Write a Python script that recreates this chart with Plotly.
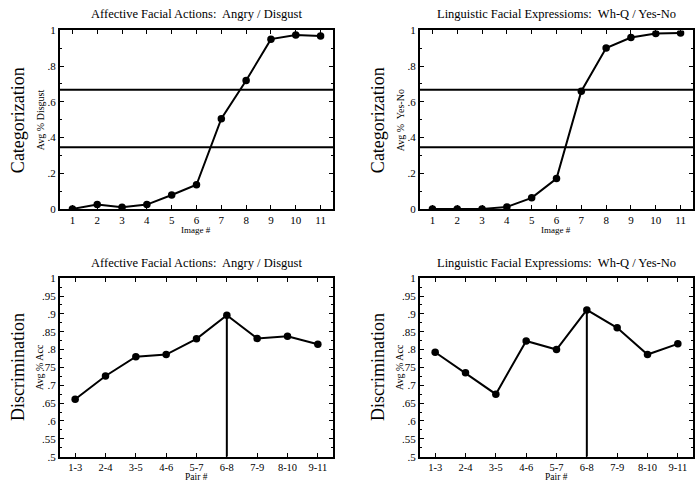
import plotly.graph_objects as go

# ---- data ----
image_nums = [1, 2, 3, 4, 5, 6, 7, 8, 9, 10, 11]
affective_cat = [0.0, 0.024, 0.009, 0.024, 0.078, 0.135, 0.505, 0.719, 0.951, 0.974, 0.969]
linguistic_cat = [0.0, 0.0, 0.0, 0.011, 0.062, 0.17, 0.659, 0.901, 0.96, 0.982, 0.985]
cat_thresholds = [0.667, 0.345]

pair_labels = ["1-3", "2-4", "3-5", "4-6", "5-7", "6-8", "7-9", "8-10", "9-11"]
affective_disc = [0.661, 0.726, 0.780, 0.786, 0.830, 0.896, 0.831, 0.837, 0.815]
linguistic_disc = [0.7925, 0.735, 0.675, 0.824, 0.800, 0.911, 0.861, 0.786, 0.816]
peak_pair = "6-8"

cat_ticks = [0, 0.2, 0.4, 0.6, 0.8, 1]
cat_ticktext = ["0", ".2", ".4", ".6", ".8", "1"]
disc_ticks = [0.5, 0.55, 0.6, 0.65, 0.7, 0.75, 0.8, 0.85, 0.9, 0.95, 1]
disc_ticktext = [".5", ".55", ".6", ".65", ".7", ".75", ".8", ".85", ".9", ".95", "1"]

title_aff = "Affective Facial Actions:  Angry / Disgust"
title_ling = "Linguistic Facial Expressioms:  Wh-Q / Yes-No"

W, H = 700, 489
FONT = "Liberation Serif"

fig = go.Figure()

pair_idx = list(range(1, len(pair_labels) + 1))
peak_i = pair_labels.index(peak_pair)

panels = [
    ("x", "y", image_nums, affective_cat, True),
    ("x2", "y2", image_nums, linguistic_cat, True),
    ("x3", "y3", pair_idx, affective_disc, False),
    ("x4", "y4", pair_idx, linguistic_disc, False),
]

for xa, ya, xs, ys, clip in panels:
    fig.add_trace(go.Scatter(
        x=xs, y=ys, xaxis=xa, yaxis=ya, mode="lines+markers",
        line=dict(color="black", width=2),
        marker=dict(color="black", size=7.5),
        showlegend=False, hoverinfo="skip", cliponaxis=clip))

# vertical peak lines in discrimination panels
for xa, ya, ys in [("x3", "y3", affective_disc), ("x4", "y4", linguistic_disc)]:
    fig.add_trace(go.Scatter(
        x=[pair_idx[peak_i], pair_idx[peak_i]], y=[disc_ticks[0], ys[peak_i]],
        xaxis=xa, yaxis=ya, mode="lines",
        line=dict(color="black", width=2), showlegend=False, hoverinfo="skip"))

# threshold lines in categorization panels
for xr, yr in [("x", "y"), ("x2", "y2")]:
    for t in cat_thresholds:
        fig.add_shape(type="line", xref=f"{xr} domain", yref=yr,
                      x0=0, x1=1, y0=t, y1=t,
                      line=dict(color="black", width=2))

def px_x(p):
    return p / W

def px_y(p):
    return 1 - p / H

left_dom = [px_x(60), px_x(333)]
right_dom = [px_x(420), px_x(693)]
top_dom = [px_y(208), px_y(25)]
bot_dom = [px_y(462), px_y(279)]

axis_common = dict(showgrid=False, zeroline=False, showline=True, linecolor="black",
                   linewidth=2, mirror="ticks", ticks="inside", ticklen=4,
                   tickcolor="black", tickwidth=1,
                   tickfont=dict(family=FONT, size=11, color="black"))

cat_x = dict(axis_common, range=[0.5, 11.5], tickvals=image_nums,
             ticktext=[str(v) for v in image_nums])
cat_y = dict(axis_common, range=[0, 1], tickvals=cat_ticks, ticktext=cat_ticktext,
             minor=dict(dtick=0.1, ticks="inside", ticklen=2, tickcolor="black"))
disc_x = dict(axis_common, range=[0.5, 9.5], tickvals=pair_idx, ticktext=pair_labels,
              tickfont=dict(family=FONT, size=10.5, color="black"))
disc_y = dict(axis_common, range=[0.5, 1], tickvals=disc_ticks, ticktext=disc_ticktext,
              minor=dict(dtick=0.025, ticks="inside", ticklen=2, tickcolor="black"))

fig.update_layout(
    width=W, height=H, margin=dict(l=0, r=0, t=0, b=0),
    paper_bgcolor="white", plot_bgcolor="white",
    font=dict(family=FONT, color="black"),
    xaxis=dict(cat_x, domain=left_dom, anchor="y"),
    yaxis=dict(cat_y, domain=top_dom, anchor="x"),
    xaxis2=dict(cat_x, domain=right_dom, anchor="y2"),
    yaxis2=dict(cat_y, domain=top_dom, anchor="x2"),
    xaxis3=dict(disc_x, domain=left_dom, anchor="y3"),
    yaxis3=dict(disc_y, domain=bot_dom, anchor="x3"),
    xaxis4=dict(disc_x, domain=right_dom, anchor="y4"),
    yaxis4=dict(disc_y, domain=bot_dom, anchor="x4"),
)

ann = []
def add_text(text, x, y, size, angle=0):
    ann.append(dict(text=text, x=px_x(x), y=px_y(y), xref="paper", yref="paper",
                    showarrow=False, textangle=angle,
                    font=dict(family=FONT, size=size, color="black"),
                    xanchor="center", yanchor="middle"))

# panel titles
add_text(title_aff, 196, 8, 12.5)
add_text(title_ling, 556, 8, 12.5)
add_text(title_aff, 196, 263, 12.5)
add_text(title_ling, 556, 263, 12.5)
# x axis titles
add_text("Image #", 196, 230, 9)
add_text("Image #", 556, 230, 9)
add_text("Pair #", 196, 483, 9.5)
add_text("Pair #", 556, 483, 9.5)
# y axis titles
add_text("Categorization", 18, 117, 18, -90)
add_text("Avg % Disgust", 40, 117, 10, -90)
add_text("Categorization", 378, 117, 18, -90)
add_text("Avg %  Yes-No", 400, 117, 10, -90)
add_text("Discrimination", 18, 370, 18, -90)
add_text("Avg % Acc", 40, 370, 10, -90)
add_text("Discrimination", 378, 370, 18, -90)
add_text("Avg % Acc", 400, 370, 10, -90)

fig.update_layout(annotations=ann)

fig.write_html(
    "out.html",
    config={"displayModeBar": False, "staticPlot": True},
    post_script="document.body.style.margin='0';document.body.style.overflow='hidden';",
)
